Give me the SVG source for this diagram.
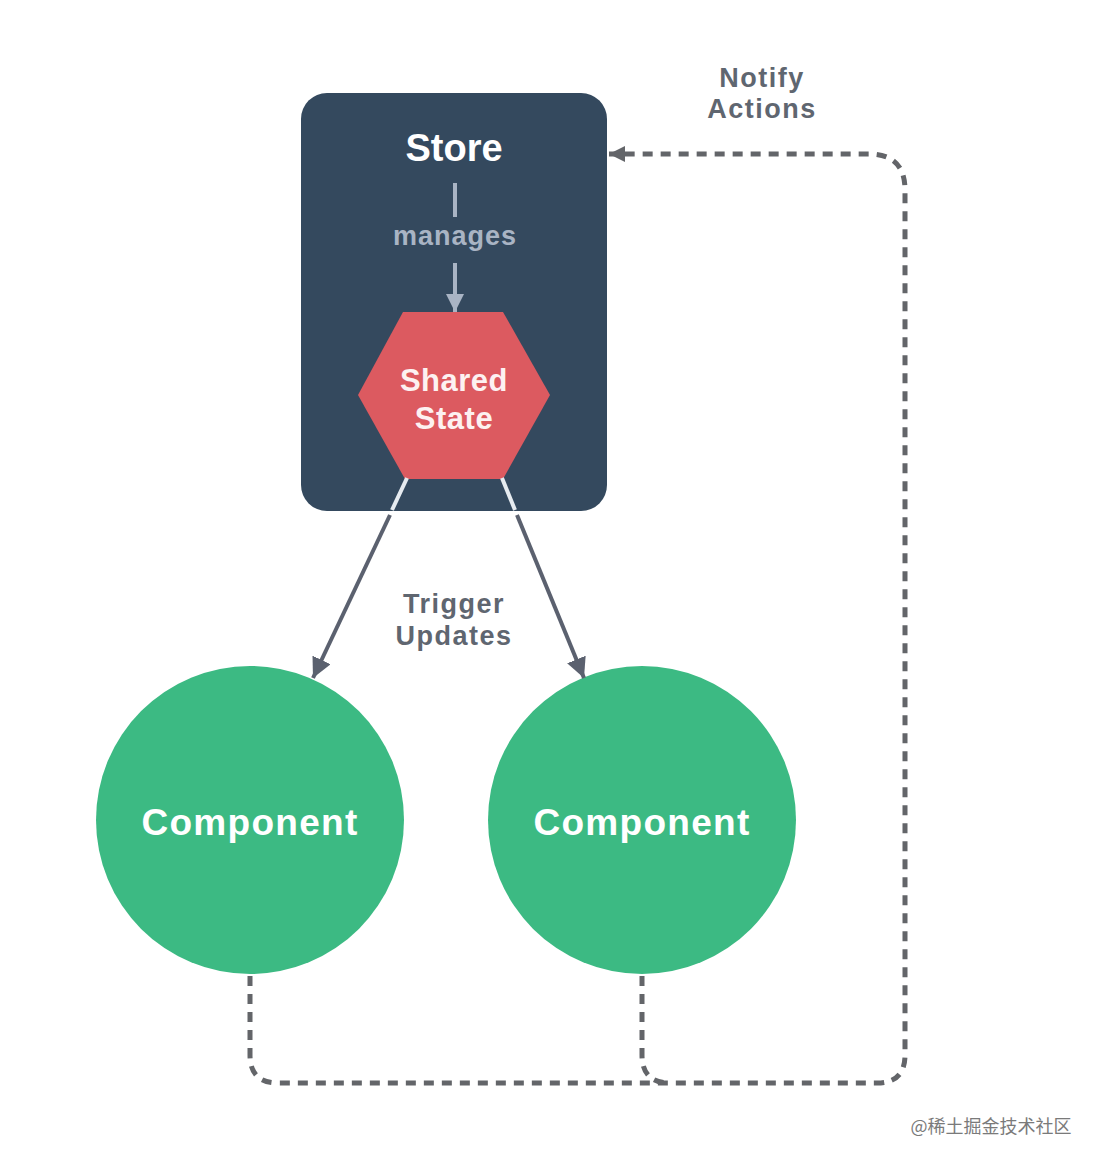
<svg xmlns="http://www.w3.org/2000/svg" width="1102" height="1166" viewBox="0 0 1102 1166">
<defs>
<style>
.t{font-family:"Liberation Sans",Arial,sans-serif;font-weight:bold;text-anchor:middle}
.lbl{fill:#5f6670;font-size:27px;letter-spacing:1.5px}
.cmp{fill:#ffffff;font-size:37px;letter-spacing:1.3px}
.dash{fill:none;stroke:#636569;stroke-width:5;stroke-dasharray:10 8}
.arr{stroke:#5b616f;stroke-width:4;fill:none}
</style>
<marker id="ah" viewBox="0 0 10 10" refX="10" refY="5" markerWidth="5" markerHeight="5" markerUnits="strokeWidth" orient="auto">
<path d="M0,0 L10,5 L0,10 z" fill="#5b616f"/>
</marker>
<marker id="ahd" viewBox="0 0 10 10" refX="10" refY="5" markerWidth="3.2" markerHeight="3.2" markerUnits="strokeWidth" orient="auto">
<path d="M0,0 L10,5 L0,10 z" fill="#636569"/>
</marker>
<marker id="ahl" viewBox="0 0 10 10" refX="10" refY="5" markerWidth="4.5" markerHeight="4.5" markerUnits="strokeWidth" orient="auto">
<path d="M0,0 L10,5 L0,10 z" fill="#a9b4c4"/>
</marker>
</defs>
<rect width="1102" height="1166" fill="#ffffff"/>

<g id="store">
<rect x="301" y="93" width="306" height="418" rx="26" fill="#34495e"/>
<text class="t" x="454" y="161" font-size="38" fill="#ffffff">Store</text>
</g>

<g id="shared-state">
<polygon points="403,312 503,312 550,395 503,479 405,479 358,395" fill="#dc5a60"/>
<text class="t" x="454" y="391" font-size="31" fill="#fdf1f1" letter-spacing="0.5">Shared</text>
<text class="t" x="454" y="429" font-size="31" fill="#fdf1f1" letter-spacing="0.5">State</text>
</g>

<g id="component-1">
<circle cx="250" cy="820" r="154" fill="#3cba83"/>
<text class="t cmp" x="250" y="835">Component</text>
</g>

<g id="component-2">
<circle cx="642" cy="820" r="154" fill="#3cba83"/>
<text class="t cmp" x="642" y="835">Component</text>
</g>

<g id="connectors">
<line x1="455" y1="183" x2="455" y2="217" stroke="#a9b4c4" stroke-width="4"/>
<text class="t" x="455" y="245" font-size="27" fill="#a9b4c4" letter-spacing="1">manages</text>
<line x1="455" y1="263" x2="455" y2="312" stroke="#a9b4c4" stroke-width="4" marker-end="url(#ahl)"/>

<line x1="407" y1="478" x2="392" y2="510" stroke="#e6ebf0" stroke-width="4"/>
<line x1="390" y1="515" x2="313" y2="678" class="arr" marker-end="url(#ah)"/>
<line x1="502" y1="478" x2="515" y2="510" stroke="#e6ebf0" stroke-width="4"/>
<line x1="517" y1="515" x2="584" y2="678" class="arr" marker-end="url(#ah)"/>

<text class="t lbl" x="454" y="613">Trigger</text>
<text class="t lbl" x="454" y="645">Updates</text>

<path class="dash" d="M250,976 L250,1055 Q250,1083 278,1083 L877,1083 Q905,1083 905,1055 L905,190 Q905,154 869,154 L609,154" marker-end="url(#ahd)"/>
<path class="dash" d="M642,976 L642,1055 Q642,1083 670,1083"/>

<text class="t lbl" x="762" y="87">Notify</text>
<text class="t lbl" x="762" y="118">Actions</text>
</g>

<text x="991" y="1133" font-family="'Noto Sans CJK SC',sans-serif" font-size="18" fill="#7a7a7a" text-anchor="middle">@稀土掘金技术社区</text>
</svg>
